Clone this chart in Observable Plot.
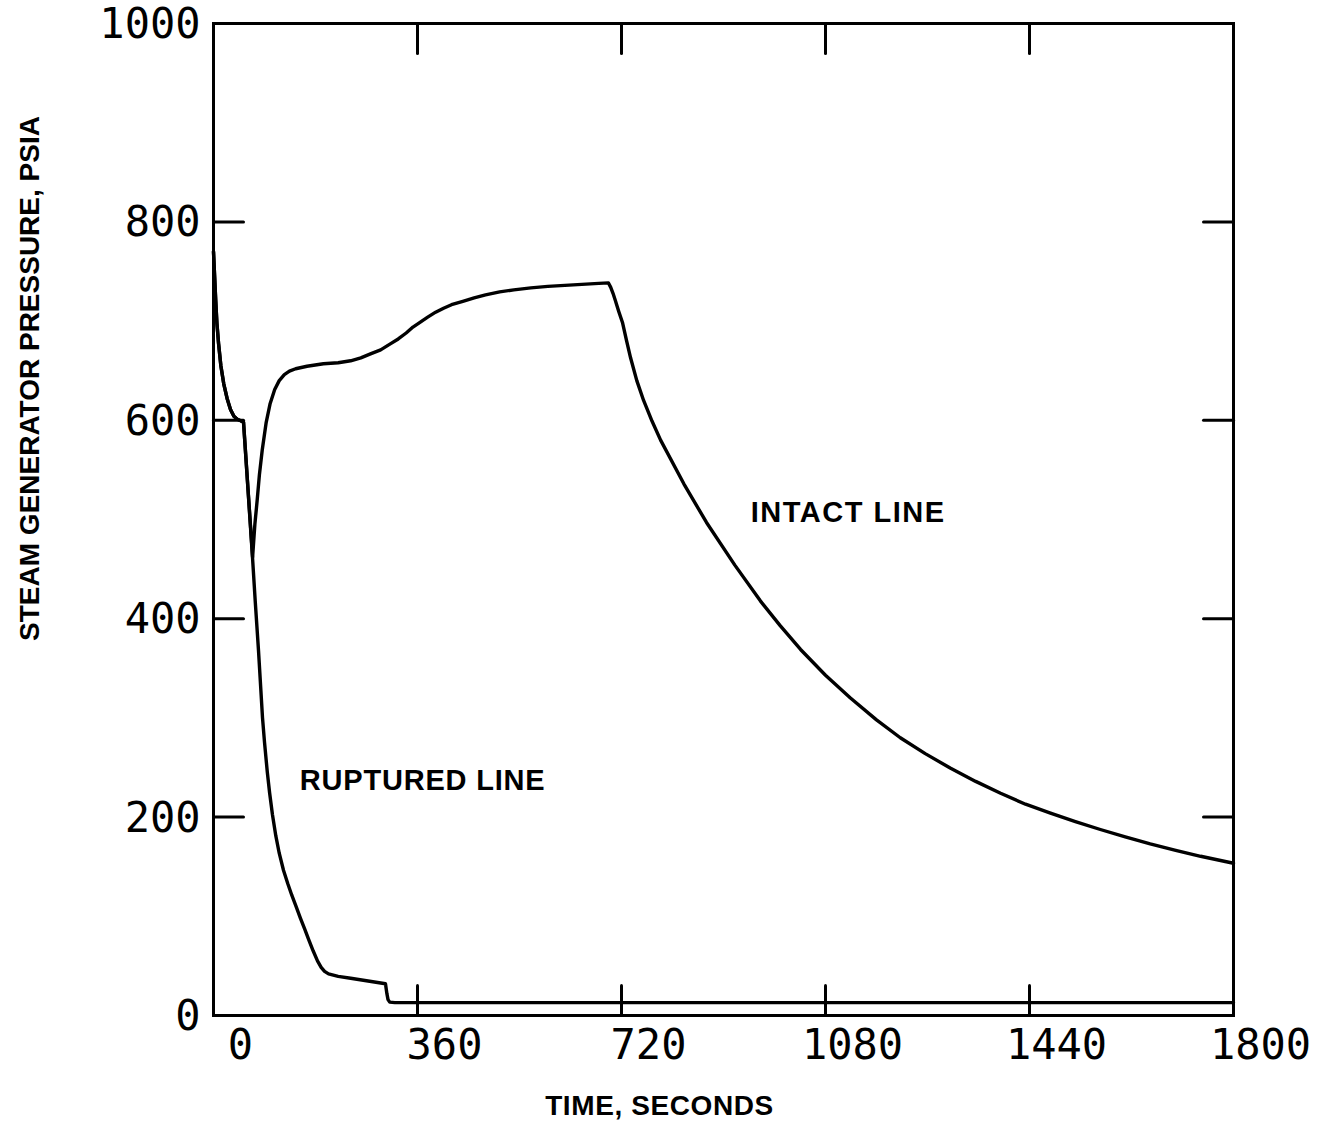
<!DOCTYPE html>
<html>
<head>
<meta charset="utf-8">
<script src="https://cdn.jsdelivr.net/npm/d3@7"></script>
<script src="https://cdn.jsdelivr.net/npm/@observablehq/plot@0.6"></script>
<style>
  body { margin: 0; background: #fff; }
  #chart svg { display: block; }
</style>
</head>
<body>
<div id="chart"></div>
<script>
// ---- Data ----
const intactTime = [0, 2, 4, 6, 9, 13, 18, 24, 30, 36, 42, 48, 53, 69, 73, 77, 81, 86, 93, 100, 108, 116, 125, 134, 145, 165, 194, 220, 242, 260, 277, 295, 312, 326, 340, 352, 365, 378, 392, 406, 420, 440, 460, 480, 505, 530, 560, 590, 620, 650, 680, 697, 701, 705, 709, 715, 722, 729, 736, 747, 759, 774, 789, 830, 870, 920, 965, 1000, 1036, 1080, 1124, 1170, 1212, 1256, 1300, 1345, 1389, 1433, 1477, 1521, 1565, 1609, 1653, 1698, 1742, 1800];
const intactPressure = [770, 745, 720, 698, 677, 655, 637, 622, 611, 604, 601, 599.5, 598, 462, 495, 519, 545, 570, 598, 617, 631, 640, 646, 649.5, 652, 654.5, 657, 658, 660, 663, 667, 671, 677, 682, 688, 694, 699, 704, 709, 713, 716.5, 720, 723.5, 726.5, 729.5, 731.5, 733.5, 735, 736, 737, 738, 738.5, 734, 728, 721, 710, 698, 680, 663, 640, 620, 599, 580, 536, 497, 454, 418, 393, 369, 343, 320, 298, 280, 264, 249.5, 236, 224, 213, 204, 195.5, 187.5, 180, 173, 166.5, 160.5, 153.5];

const rupturedTime = [0, 2, 4, 6, 9, 13, 18, 24, 30, 36, 42, 48, 53, 68.8, 73.6, 79.4, 86.5, 90, 95, 99, 104, 110, 116, 123.5, 131, 138, 146, 153.5, 161, 168, 176, 183.5, 190, 196, 203, 220, 242, 270, 303.5, 306, 308, 311, 320, 1800];
const rupturedPressure = [770, 745, 720, 698, 677, 655, 637, 622, 611, 604, 601, 599.5, 598, 462, 418, 368, 300, 275.5, 245, 224.6, 202.6, 181, 163.6, 146.4, 133, 121.5, 109.5, 98, 87, 76.5, 65, 55, 48.5, 44.5, 42, 39.5, 37.5, 35, 32, 22, 16, 13.5, 13, 13];

const xTickLabels = [0, 360, 720, 1080, 1440, 1800];
const yTickLabels = [0, 200, 400, 600, 800, 1000];
const xInnerTicks = [360, 720, 1080, 1440];
const yInnerTicks = [200, 400, 600, 800];

const labelText = ["INTACT LINE", "RUPTURED LINE"];
const labelTime = [1120, 369];
const labelPressure = [507, 237];

const xTitle = "TIME, SECONDS";
const yTitle = "STEAM GENERATOR PRESSURE, PSIA";

// ---- Tables built from the arrays ----
const intact = intactTime.map((t, i) => ({t, p: intactPressure[i]}));
const ruptured = rupturedTime.map((t, i) => ({t, p: rupturedPressure[i]}));
const labels = labelText.map((label, i) => ({label, t: labelTime[i], p: labelPressure[i]}));

const tickShape = {draw(context, l) { context.moveTo(0, 0); context.lineTo(0, -l); }};
const tickStyle = {length: 30, shape: tickShape, anchor: "start", stroke: "#000", strokeWidth: 3};

const monoFont = "DejaVu Sans Mono";
const boldFont = "Liberation Sans, Arial, sans-serif";

const chart = Plot.plot({
  width: 1329,
  height: 1128,
  marginLeft: 213,
  marginRight: 96,
  marginTop: 23,
  marginBottom: 113,
  style: {background: "#fff", color: "#000"},
  x: {domain: [0, 1800], axis: null},
  y: {domain: [0, 1000], axis: null},
  marks: [
    Plot.frame({stroke: "#000", strokeWidth: 3}),
    // inner ticks on all four sides
    Plot.vector(xInnerTicks, {x: d => d, y: 1000, rotate: 180, ...tickStyle}),
    Plot.vector(xInnerTicks, {x: d => d, y: 0, rotate: 0, ...tickStyle}),
    Plot.vector(yInnerTicks, {x: 0, y: d => d, rotate: 90, ...tickStyle}),
    Plot.vector(yInnerTicks, {x: 1800, y: d => d, rotate: -90, ...tickStyle}),
    // curves
    Plot.line(ruptured, {x: "t", y: "p", stroke: "#000", strokeWidth: 3.4, strokeLinejoin: "round", strokeLinecap: "round"}),
    Plot.line(intact, {x: "t", y: "p", stroke: "#000", strokeWidth: 3.4, strokeLinejoin: "round", strokeLinecap: "round"}),
    // tick labels
    Plot.text(xTickLabels, {x: d => d, y: 0, dy: 30, dx: 27, text: d => String(d), fontSize: 42, fontFamily: monoFont, fill: "#000"}),
    Plot.text(yTickLabels, {x: 0, y: d => d, dx: -13, dy: 1, textAnchor: "end", text: d => String(d), fontSize: 42, fontFamily: monoFont, fill: "#000"}),
    // annotations
    Plot.text(labels, {x: "t", y: "p", text: "label", fontSize: 29, fontWeight: "bold", fontFamily: boldFont, fill: "#000"}),
    // axis titles
    Plot.text([yTitle], {frameAnchor: "left", textAnchor: "middle", lineAnchor: "middle", rotate: -90, dx: -183, dy: -141, fontSize: 28, fontWeight: "bold", fontFamily: boldFont, fill: "#000"}),
    Plot.text([xTitle], {frameAnchor: "bottom", textAnchor: "middle", lineAnchor: "middle", dx: -64, dy: 91, fontSize: 28, fontWeight: "bold", fontFamily: boldFont, fill: "#000"})
  ]
});

document.getElementById("chart").appendChild(chart);
const spacing = {"INTACT LINE": "1.5px", "RUPTURED LINE": "0.8px", [xTitle]: "0.6px"};
d3.select(chart).selectAll("text").each(function() {
  const t = d3.select(this);
  const s = t.text();
  if (spacing[s]) t.style("letter-spacing", spacing[s]);
  if (/^\d+$/.test(s)) t.style("font-weight", "300");
});
</script>
</body>
</html>
